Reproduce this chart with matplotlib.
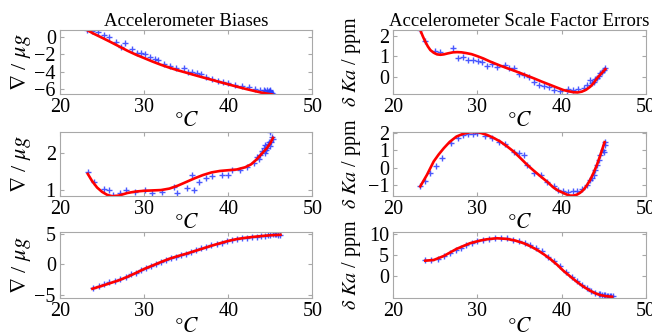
import matplotlib
matplotlib.use('Agg')
import matplotlib.pyplot as plt

# ---- bias, axis 1 ----
b1_fit_t = [23.2, 24, 25, 26, 27, 28, 29, 30, 31, 32, 33, 34, 35, 36, 37, 38, 39, 40, 41, 42, 43, 44, 45.2]
b1_fit_v = [0.77, 0.35, -0.12, -0.6, -1.1, -1.6, -2.05, -2.45, -2.85, -3.22, -3.55, -3.85, -4.12, -4.4,
            -4.67, -4.93, -5.2, -5.46, -5.72, -5.97, -6.2, -6.42, -6.62]
b1_t = [23.2, 23.8, 24.5, 25.2, 25.8, 26.7, 27.3, 27.7, 28.5, 29.1, 29.6, 30.1, 30.7, 31.3, 31.7, 32.3,
        33.1, 33.8, 34.7, 35.2, 35.7, 36.3, 36.7, 37.3, 38.1, 38.8, 39.4, 40.0, 40.8, 41.6, 42.4, 43.2,
        43.8, 44.2, 44.4, 44.6, 44.8, 44.9, 45.0, 45.1, 45.2, 45.3, 44.7, 45.0]
b1_v = [0.77, 0.65, 0.5, 0.19, 0.0, -0.57, -1.15, -0.77, -1.42, -1.84, -1.84, -2.03, -2.3, -2.6, -2.68,
        -3.07, -3.33, -3.56, -3.56, -4.02, -4.1, -4.21, -4.29, -4.6, -4.9, -5.1, -5.17, -5.25, -5.48,
        -5.67, -5.79, -5.94, -6.05, -6.12, -6.17, -6.08, -6.24, -6.15, -6.3, -6.4, -6.5, -6.6, -6.35, -6.2]

# ---- bias, axis 2 ----
b2_fit_t = [23.3, 23.8, 24.4, 25, 25.6, 26.2, 27, 28, 29, 30, 31, 32, 33, 34, 35, 36, 37, 38, 39, 40,
            41, 42, 42.7, 43.3, 43.9, 44.5, 45.0, 45.3]
b2_fit_v = [1.44, 1.25, 1.07, 0.95, 0.87, 0.83, 0.85, 0.92, 0.96, 0.98, 0.99, 1.0, 1.04, 1.12, 1.22,
            1.32, 1.41, 1.48, 1.52, 1.54, 1.56, 1.62, 1.70, 1.82, 1.97, 2.12, 2.28, 2.42]
b2_t = [23.3, 24.0, 25.2, 25.8, 26.3, 27.1, 27.9, 28.9, 30.1, 30.9, 32.1, 33.5, 33.9, 35.1, 35.7, 35.9,
        36.5, 37.3, 38.1, 39.2, 40.0, 40.4, 41.4, 42.2, 43.0, 43.4, 43.8, 44.2, 44.4, 44.8, 45.0, 45.2,
        44.0, 44.3, 44.6, 44.9, 45.1, 45.3, 44.5, 44.7, 43.6]
b2_v = [1.48, 1.22, 1.04, 1.0, 0.87, 0.91, 0.99, 0.96, 0.99, 0.92, 0.95, 1.07, 0.92, 1.05, 1.41, 1.0,
        1.23, 1.32, 1.37, 1.41, 1.41, 1.55, 1.55, 1.64, 1.73, 1.91, 1.95, 2.14, 2.23, 2.32, 2.59, 2.45,
        2.05, 2.0, 2.15, 2.2, 2.3, 2.4, 2.1, 2.25, 1.85]

# ---- bias, axis 3 ----
b3_fit_t = [23.85, 25, 26, 27, 28, 29, 30, 31, 32, 33, 34, 35, 36, 37, 38, 39, 40, 41, 42, 43, 44, 45, 46.2]
b3_fit_v = [-3.98, -3.5, -3.05, -2.6, -2.05, -1.42, -0.76, -0.2, 0.37, 0.9, 1.33, 1.72, 2.15, 2.58,
            3.02, 3.42, 3.8, 4.1, 4.3, 4.46, 4.6, 4.72, 4.8]
b3_t = [23.9, 24.6, 25.2, 25.8, 26.5, 27.1, 27.8, 28.4, 29.0, 29.6, 30.2, 30.8, 31.4, 32.0, 32.6, 33.2,
        33.8, 34.4, 35.0, 35.6, 36.2, 36.8, 37.4, 38.0, 38.6, 39.2, 39.8, 40.4, 41.0, 41.6, 42.2, 42.8,
        43.4, 43.9, 44.3, 44.7, 45.0, 45.3, 45.5, 45.7, 45.9, 46.1]
b3_v = [-3.9, -3.45, -3.2, -2.95, -2.75, -2.45, -2.0, -1.6, -1.35, -1.0, -0.6, -0.3, 0.05, 0.45, 0.7,
        0.95, 1.25, 1.5, 1.75, 2.05, 2.35, 2.6, 2.85, 3.1, 3.3, 3.5, 3.75, 3.95, 4.1, 4.25, 4.35, 4.4,
        4.5, 4.55, 4.65, 4.75, 4.8, 4.9, 4.95, 4.85, 4.8, 4.7]

# ---- scale factor, axis 1 ----
s1_fit_t = [23.2, 23.5, 23.8, 24.1, 24.4, 24.8, 25.2, 25.6, 26, 26.5, 27.1, 27.6, 28.1, 28.7, 29.3, 30,
            30.7, 31.5, 32.7, 33.7, 34.7, 35.7, 36.7, 37.7, 38.7, 39.5, 40.2, 40.8, 41.4, 41.9, 42.4,
            42.9, 43.4, 43.8, 44.2, 44.7, 45.2]
s1_fit_v = [2.28, 1.98, 1.71, 1.48, 1.30, 1.17, 1.09, 1.07, 1.09, 1.14, 1.19, 1.2, 1.19, 1.15, 1.1, 1.0,
            0.89, 0.74, 0.54, 0.39, 0.24, 0.08, -0.08, -0.25, -0.41, -0.54, -0.65, -0.71, -0.76, -0.77,
            -0.73, -0.64, -0.49, -0.31, -0.08, 0.15, 0.37]
s1_t = [23.2, 23.8, 25.0, 25.6, 27.1, 27.7, 28.3, 28.9, 29.5, 30.1, 30.5, 31.1, 31.7, 32.3, 33.3, 33.7,
        34.3, 34.9, 35.5, 36.1, 36.7, 37.3, 37.9, 38.5, 39.1, 39.8, 40.6, 40.8, 41.4, 42.0, 42.6, 43.0,
        43.4, 43.8, 44.2, 44.6, 45.0, 45.2, 43.6, 44.0, 44.4, 44.8]
s1_v = [2.28, 1.74, 1.25, 1.22, 1.38, 0.93, 0.96, 0.83, 0.8, 0.76, 0.73, 0.54, 0.62, 0.49, 0.57, 0.44,
        0.44, 0.11, 0.08, 0.0, -0.28, -0.41, -0.44, -0.5, -0.65, -0.7, -0.89, -0.62, -0.65, -0.6, -0.54,
        -0.41, -0.16, -0.24, -0.08, 0.16, 0.33, 0.41, -0.3, -0.1, 0.05, 0.25]

# ---- scale factor, axis 2 ----
s2_fit_t = [23.2, 24, 24.8, 25.4, 26, 26.7, 27.5, 28.3, 29.1, 30.1, 31.1, 31.9, 32.7, 33.5, 34.3, 35.1,
            35.9, 36.7, 37.5, 38.3, 39, 39.6, 40.2, 40.6, 41, 41.4, 41.8, 42.2, 42.6, 43, 43.4, 43.8,
            44.2, 44.6, 45.1]
s2_fit_v = [-1.06, -0.4, 0.36, 0.76, 1.11, 1.47, 1.77, 1.93, 2.02, 2.02, 1.87, 1.7, 1.49, 1.22, 0.92,
            0.55, 0.17, -0.17, -0.49, -0.8, -1.11, -1.3, -1.43, -1.52, -1.58, -1.58, -1.53, -1.42, -1.25,
            -1.0, -0.68, -0.28, 0.17, 0.72, 1.45]
s2_t = [23.2, 23.8, 24.4, 25.1, 25.8, 26.9, 27.7, 28.3, 28.9, 29.5, 30.0, 30.9, 31.7, 32.5, 33.3, 34.3,
        34.9, 35.5, 35.9, 36.7, 37.5, 38.3, 39.1, 39.6, 40.2, 40.8, 41.3, 41.8, 42.4, 43.0, 43.4, 43.8,
        44.2, 44.6, 44.9, 45.2, 43.6, 44.0, 44.4, 45.0, 45.1]
s2_v = [-1.06, -0.77, -0.3, 0.08, 0.58, 1.4, 1.68, 1.87, 1.9, 1.9, 1.96, 1.83, 1.68, 1.49, 1.34, 0.89,
        0.83, 0.74, 0.13, -0.3, -0.4, -0.83, -1.06, -1.25, -1.34, -1.38, -1.3, -1.34, -1.21, -0.96,
        -0.68, -0.4, 0.17, 0.74, 1.02, 1.49, -0.6, -0.1, 0.45, 0.9, 1.3]

# ---- scale factor, axis 3 ----
s3_fit_t = [23.8, 24.8, 26, 27.5, 29.1, 30.3, 31.1, 32.3, 33.5, 34.5, 35.5, 36.3, 37.1, 37.9, 38.7,
            39.5, 40.2, 41, 41.8, 42.6, 43.4, 44, 44.6, 45.3, 46]
s3_fit_v = [3.62, 3.78, 4.72, 6.38, 7.72, 8.35, 8.66, 8.9, 8.74, 8.35, 7.72, 7.0, 6.14, 5.1, 3.94, 2.6,
            1.26, -0.05, -1.34, -2.5, -3.46, -4.05, -4.49, -4.75, -4.88]
s3_t = [23.8, 24.5, 25.3, 26.0, 26.7, 27.4, 28.0, 28.6, 29.3, 30.0, 30.7, 31.4, 32.1, 32.8, 33.5, 34.2,
        34.9, 35.6, 36.3, 37.0, 37.7, 38.4, 39.1, 39.8, 40.5, 41.2, 41.8, 42.4, 43.0, 43.5, 44.0, 44.4,
        44.8, 45.1, 45.4, 45.7, 45.9, 46.1, 44.6, 45.0, 45.5, 45.8]
s3_v = [3.7, 3.85, 4.1, 4.75, 5.4, 6.2, 6.7, 7.2, 7.8, 8.2, 8.5, 8.75, 8.9, 8.95, 8.85, 8.6, 8.2, 7.7,
        7.2, 6.5, 5.85, 4.55, 3.55, 2.4, 1.0, -0.2, -1.2, -2.15, -2.9, -3.5, -3.95, -4.2, -4.4, -4.5,
        -4.6, -4.7, -4.75, -4.8, -4.3, -4.55, -4.65, -4.9]

panels = [
    (b1_t, b1_v, b1_fit_t, b1_fit_v, (-6.6, 0.77), [-6, -4, -2, 0]),
    (s1_t, s1_v, s1_fit_t, s1_fit_v, (-0.86, 2.28), [0, 1, 2]),
    (b2_t, b2_v, b2_fit_t, b2_fit_v, (0.83, 2.58), [1, 2]),
    (s2_t, s2_v, s2_fit_t, s2_fit_v, (-1.62, 2.03), [-1, 0, 1, 2]),
    (b3_t, b3_v, b3_fit_t, b3_fit_v, (-5.4, 5.2), [-5, 0, 5]),
    (s3_t, s3_v, s3_fit_t, s3_fit_v, (-5.05, 10.3), [0, 5, 10]),
]

plt.rcParams['font.family'] = ['Liberation Serif', 'DejaVu Serif']
plt.rcParams['mathtext.fontset'] = 'stix'

fig = plt.figure(figsize=(6.52, 3.36), dpi=100)
W, H = 652.0, 336.0
lefts = [60, 393.3]
rows = [(30, 94.3), (132, 196.3), (232.3, 297.5)]
axw = 252.5

for k, (t, v, ft, fv, ylim, yt) in enumerate(panels):
    r, c = k // 2, k % 2
    top, bot = rows[r]
    ax = fig.add_axes([lefts[c] / W, 1 - bot / H, axw / W, (bot - top) / H])
    ax.plot(t, v, '+', color='#2a3cff', ms=4, mew=1.0, alpha=0.85)
    ax.plot(ft, fv, '-', color='red', lw=1.9)
    ax.set_xlim(20, 50)
    ax.set_ylim(*ylim)
    ax.set_xticks([20, 30, 40, 50])
    ax.set_yticks(yt)
    ax.tick_params(direction='in', length=3, width=0.8, color='#a8a8a8',
                   top=True, right=True, labelsize=14.5, pad=3)
    for s in ax.spines.values():
        s.set_color('#a8a8a8')
        s.set_linewidth(0.8)
    if c == 0:
        ax.set_ylabel(r'$\nabla$ / $\mu g$', fontsize=16)
        ax.yaxis.set_label_coords(-0.105, 0.5)
    else:
        ax.set_ylabel(r'$\delta\ Ka$ / ppm', fontsize=14.5)
        ax.yaxis.set_label_coords(-0.12, 0.5)
    ax.set_xlabel(r'$\degree C$', fontsize=15.5, va='center')
    ax.xaxis.set_label_coords(0.5, -0.42 if r < 2 else -0.46)
    if r == 0:
        ax.set_title('Accelerometer Biases' if c == 0 else 'Accelerometer Scale Factor Errors',
                     fontsize=13.5, pad=3)

fig.savefig('out.png', dpi=100)
